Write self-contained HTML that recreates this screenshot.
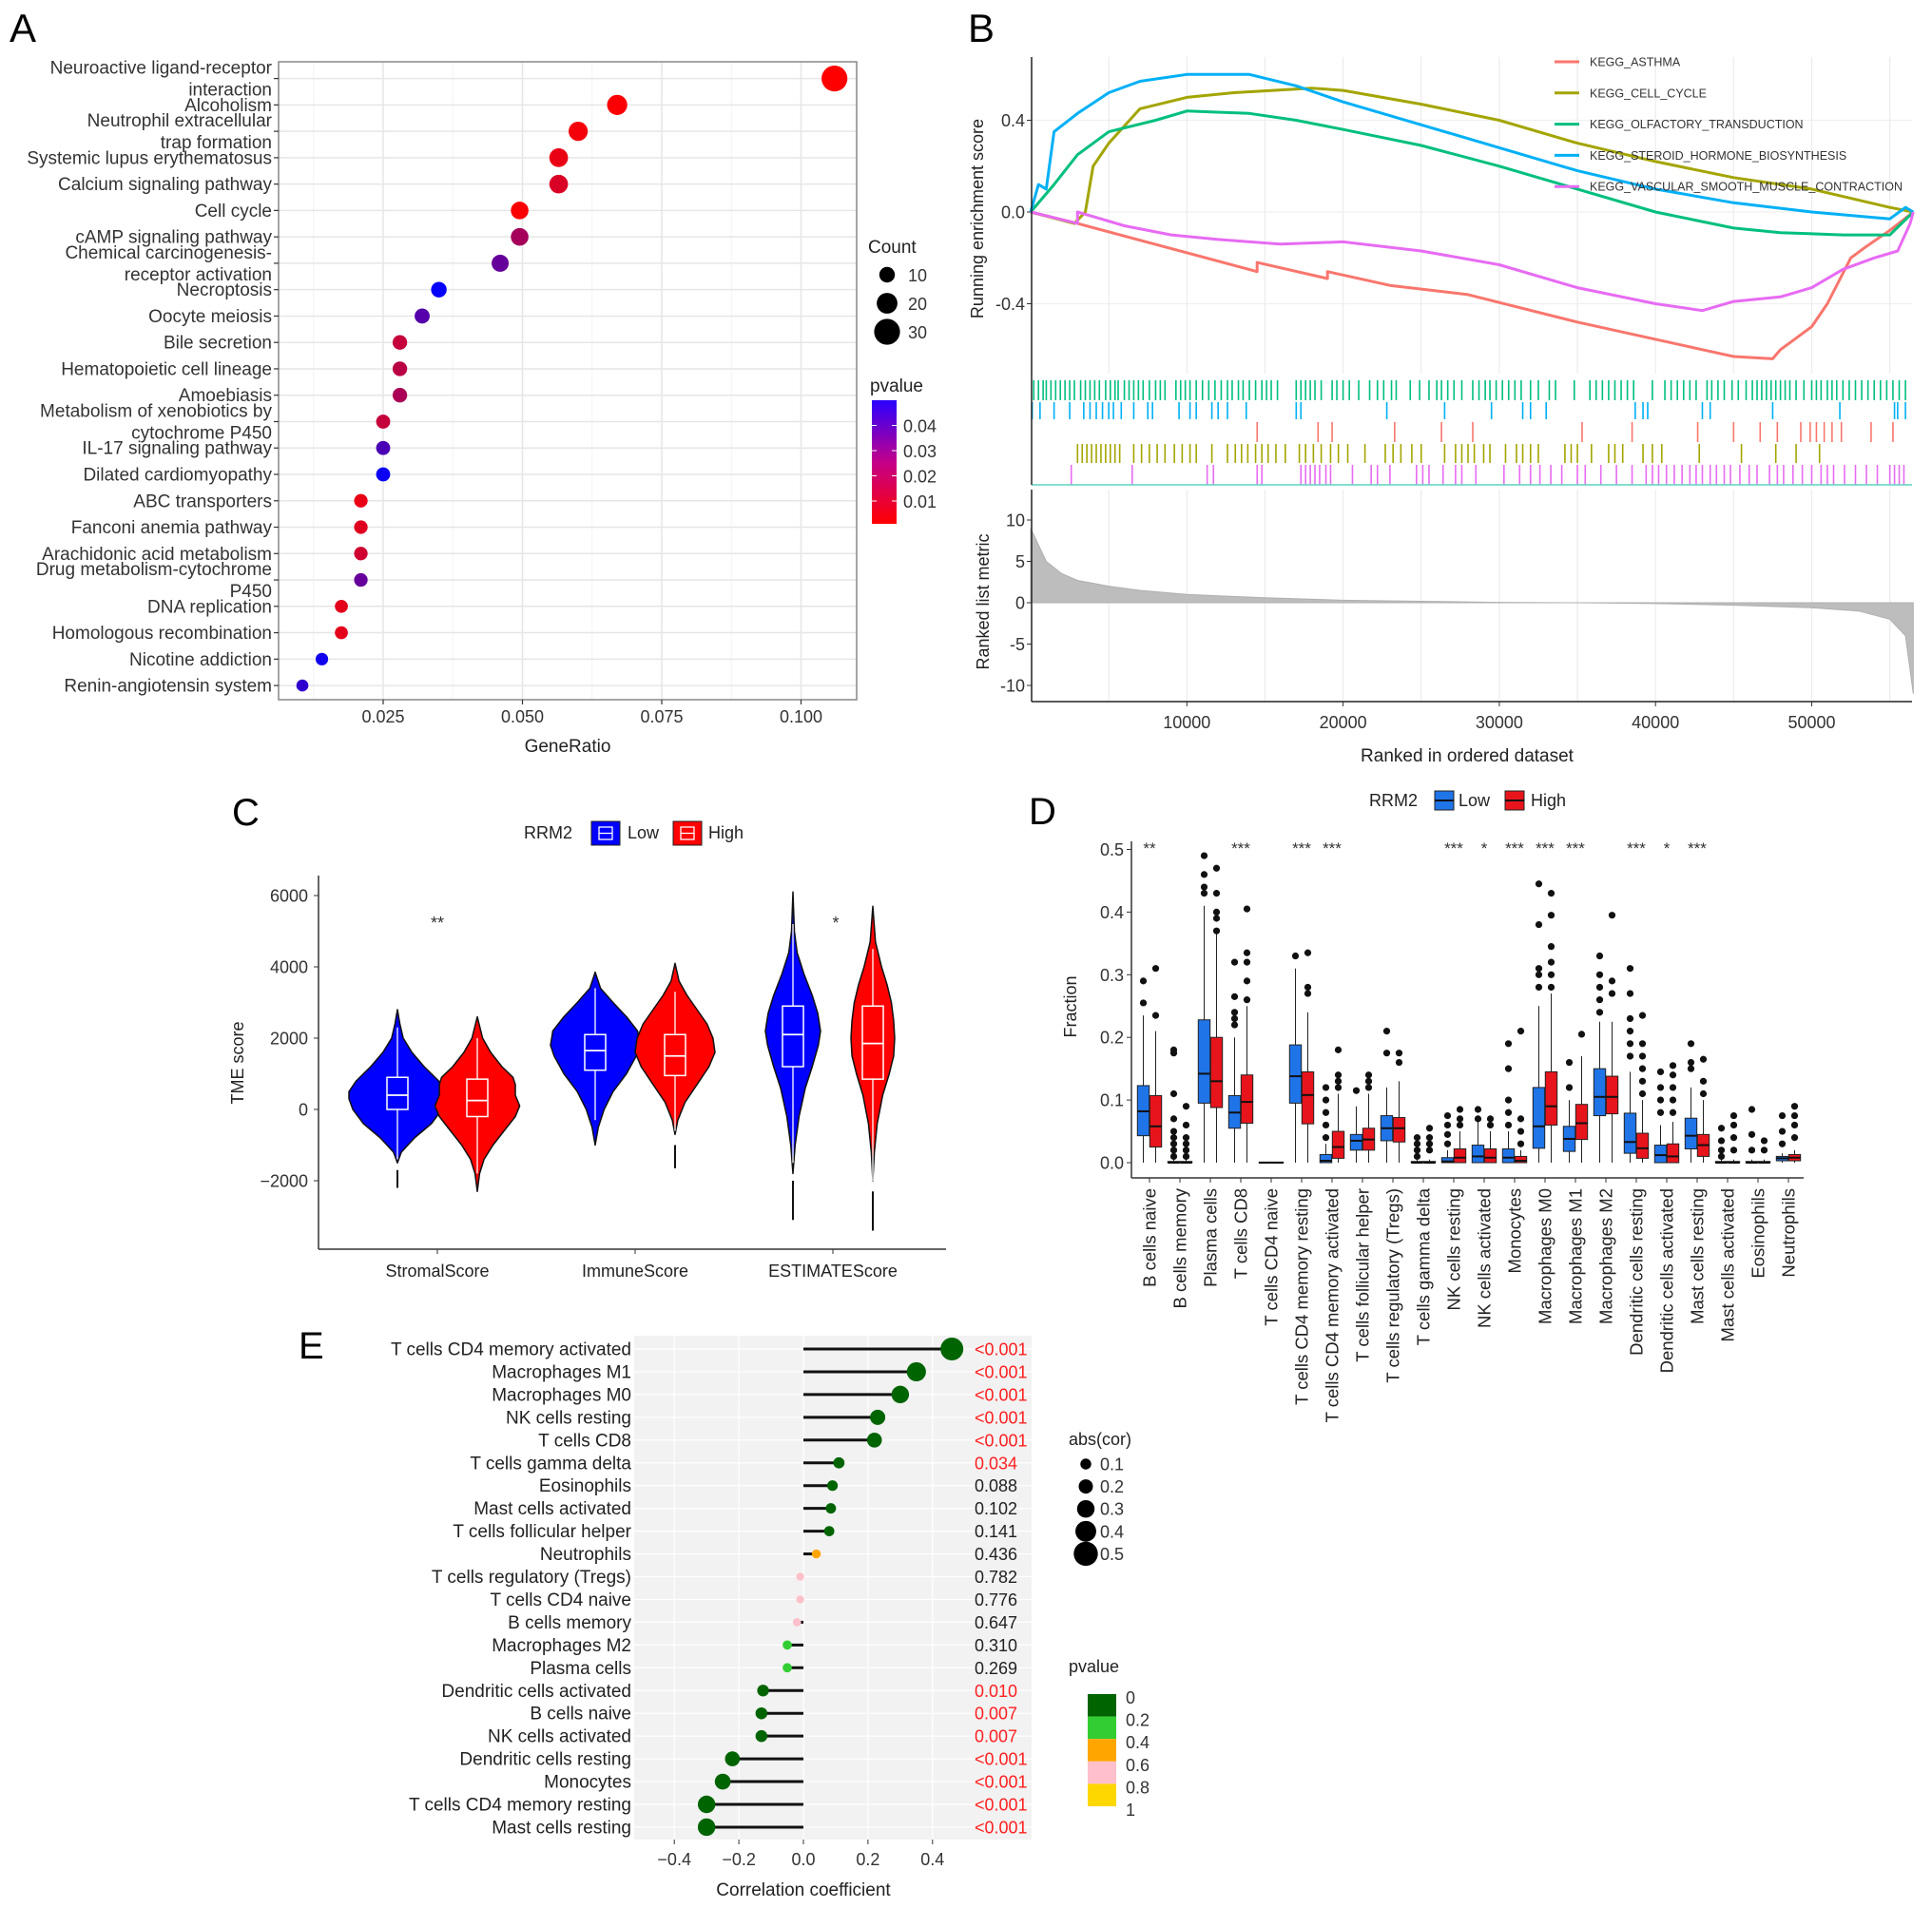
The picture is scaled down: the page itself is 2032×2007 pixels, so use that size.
<!DOCTYPE html>
<html><head><meta charset="utf-8"><style>
html,body{margin:0;padding:0;background:#fff;}
svg{display:block;font-family:"Liberation Sans",sans-serif;}
</style></head><body>
<svg id="chart" width="2032" height="2007" viewBox="0 0 2032 2007" xmlns="http://www.w3.org/2000/svg">
<rect x="0" y="0" width="2032" height="2007" fill="#fff"/>
</svg>
<script>
// ---------------- Panel A data ----------------
const aTerms=["Neuroactive ligand-receptor\ninteraction","Alcoholism","Neutrophil extracellular\ntrap formation","Systemic lupus erythematosus","Calcium signaling pathway","Cell cycle","cAMP signaling pathway","Chemical carcinogenesis-\nreceptor activation","Necroptosis","Oocyte meiosis","Bile secretion","Hematopoietic cell lineage","Amoebiasis","Metabolism of xenobiotics by\ncytochrome P450","IL-17 signaling pathway","Dilated cardiomyopathy","ABC transporters","Fanconi anemia pathway","Arachidonic acid metabolism","Drug metabolism-cytochrome\nP450","DNA replication","Homologous recombination","Nicotine addiction","Renin-angiotensin system"];
const aRatio=[0.106,0.067,0.060,0.0565,0.0565,0.0495,0.0495,0.046,0.035,0.032,0.028,0.028,0.028,0.025,0.025,0.025,0.021,0.021,0.021,0.021,0.0175,0.0175,0.014,0.0105];
const aPval=[0.001,0.002,0.003,0.005,0.008,0.002,0.018,0.030,0.048,0.033,0.012,0.014,0.017,0.012,0.035,0.047,0.005,0.007,0.010,0.030,0.006,0.006,0.046,0.040];
const aCount=[30,19,17,16,16,14,14,13,10,9,8,8,8,7,7,7,6,6,6,6,5,5,4,3];
const aXTicks=[0.025,0.050,0.075,0.100];
const aXTickLabels=["0.025","0.050","0.075","0.100"];
const aCountLegend=[10,20,30];
const aPLegend=[0.04,0.03,0.02,0.01];

// ---------------- Panel B data ----------------
const bSetNames=["KEGG_ASTHMA","KEGG_CELL_CYCLE","KEGG_OLFACTORY_TRANSDUCTION","KEGG_STEROID_HORMONE_BIOSYNTHESIS","KEGG_VASCULAR_SMOOTH_MUSCLE_CONTRACTION"];
const esRankAsthma=[0,3,14.5,14.5,19,19,23,28,35,43,45,47.5,48,49,50,51,52.5,53.5,55,56.5];
const esValAsthma=[0,-0.05,-0.26,-0.22,-0.29,-0.26,-0.32,-0.36,-0.48,-0.60,-0.63,-0.64,-0.60,-0.55,-0.50,-0.40,-0.20,-0.15,-0.08,0];
const esRankCycle=[0,2.8,3.5,4,5,7,10,13,18,20,25,30,35,40,45,50,55,56.5];
const esValCycle=[0,-0.05,0.0,0.2,0.3,0.45,0.5,0.52,0.54,0.53,0.47,0.40,0.30,0.22,0.15,0.10,0.02,0];
const esRankOlf=[0,1.5,3,5,8,10,14,17,20,25,30,35,40,45,48,52,55,56.5];
const esValOlf=[0,0.12,0.25,0.35,0.40,0.44,0.43,0.40,0.36,0.29,0.20,0.10,0.0,-0.07,-0.09,-0.10,-0.10,0];
const esRankSter=[0,0.5,1,1.5,3,5,7,10,14,17,20,25,30,35,40,45,50,55,56,56.5];
const esValSter=[0,0.12,0.10,0.35,0.43,0.52,0.57,0.60,0.60,0.55,0.48,0.38,0.28,0.18,0.10,0.04,0.0,-0.03,0.02,0];
const esRankVasc=[0,3,3,6,9,12,16,20,25,30,35,40,43,45,48,50,52,54,55.5,56.3,56.5];
const esValVasc=[0,-0.05,0.0,-0.06,-0.10,-0.12,-0.14,-0.13,-0.17,-0.23,-0.33,-0.40,-0.43,-0.39,-0.37,-0.33,-0.25,-0.20,-0.17,-0.05,0];
const rugOlf=[0.2,0.5,0.8,1.0,1.3,1.6,1.9,2.2,2.5,2.8,3.2,3.5,3.8,4.1,4.4,4.8,5.1,5.4,5.6,6.0,6.3,6.6,6.9,7.2,7.6,8.0,8.3,8.6,9.3,9.6,9.9,10.2,10.6,11.0,11.4,11.8,12.2,12.6,12.9,13.3,13.6,14.0,14.4,14.8,15.1,15.4,15.8,17.0,17.3,17.6,17.9,18.2,18.6,19.3,19.6,20.0,20.4,21.0,21.7,22.2,22.6,23.1,23.4,24.3,24.9,25.5,26.0,26.3,26.7,27.1,27.6,28.3,28.7,29.1,29.4,29.8,30.2,30.6,31.0,31.4,32.0,32.5,33.2,33.6,34.8,35.8,36.2,36.6,37.0,37.4,37.8,38.2,38.6,39.8,40.6,41.0,41.4,41.8,42.2,42.6,43.3,43.6,44.0,44.4,44.9,45.3,45.8,46.2,46.5,46.8,47.1,47.4,47.7,48.0,48.3,48.6,49.0,49.5,50.0,50.3,50.6,51.0,51.3,51.6,52.0,52.4,52.8,53.2,53.6,54.0,54.4,54.8,55.2,55.6,56.0];
const rugSter=[0.1,0.6,1.5,2.5,3.4,3.8,4.2,4.6,5.0,5.3,5.8,6.6,7.5,7.8,9.5,10.2,10.6,11.6,12.0,12.6,13.8,17.0,17.3,22.8,26.5,29.5,31.5,32.0,33.0,38.7,39.2,39.5,43.0,43.5,47.5,51.8,55.3,55.5,56.0];
const rugAsthma=[14.5,18.4,19.3,23.3,26.3,28.3,35.3,38.5,42.7,45.0,46.7,47.8,49.3,49.9,50.3,50.8,51.3,51.9,53.8,55.2];
const rugCycle=[3.0,3.3,3.6,3.9,4.2,4.5,4.8,5.1,5.4,5.7,6.6,7.1,7.6,8.1,8.6,9.2,9.7,10.2,10.6,11.6,12.6,13.1,13.5,13.9,14.4,14.8,15.2,15.7,16.3,17.2,17.6,18.1,18.6,19.2,19.7,20.3,21.4,22.7,23.2,23.7,24.4,25.0,26.5,27.2,27.6,28.0,28.4,29.0,29.4,30.4,31.1,31.5,32.0,32.5,34.2,34.6,35.0,35.9,37.0,37.4,37.9,39.2,39.8,40.4,42.8,45.5,47.7,49.0,50.5];
const rugVasc=[2.6,6.5,11.3,11.7,14.5,14.8,17.3,17.6,17.9,18.2,18.5,18.9,19.2,20.6,21.8,22.2,23.0,24.7,25.1,25.5,26.4,27.2,27.6,28.5,30.3,31.3,32.0,32.6,33.3,34.0,35.0,35.5,36.5,37.5,38.5,39.4,39.8,40.2,40.7,41.2,41.7,42.2,42.6,43.0,43.5,43.9,44.4,44.8,45.4,46.0,46.5,47.3,47.8,48.2,48.8,49.4,50.0,50.6,51.0,51.4,52.1,52.8,53.5,54.2,55.0,55.3,55.6,55.9];
const metricRank=[0,0.5,1,2,3,5,7,10,15,20,30,35,40,45,50,53,55,56,56.5];
const metricVal=[9,7,5,3.5,2.7,2,1.5,1,0.6,0.3,0.05,0,-0.1,-0.3,-0.6,-1,-2,-4,-11];
const bXTicks=[10000,20000,30000,40000,50000];
const bEsTicks=[0.4,0.0,-0.4];
const bEsTickLabels=["0.4","0.0","-0.4"];
const bMetricTicks=[10,5,0,-5,-10];

// ---------------- Panel C data ----------------
const cCategories=["StromalScore","ImmuneScore","ESTIMATEScore"];
const cYTicks=[6000,4000,2000,0,-2000];
const violinY=[
 [-1500,-1200,-800,-400,0,300,500,800,1200,1600,2000,2400,2800],
 [-2300,-1800,-1400,-1000,-600,-200,100,400,700,900,1200,1600,2000,2600],
 [-1000,-500,0,500,1000,1500,1800,2200,2600,3000,3400,3850],
 [-700,-300,200,700,1200,1600,2000,2400,2800,3200,3600,4100],
 [-1800,-1000,-200,600,1200,1800,2200,2700,3200,3800,4400,5000,6100],
 [-2000,-1200,-400,400,1000,1500,2000,2500,3000,3500,4000,4700,5700]];
const violinW=[
 [0,0.08,0.35,0.7,0.92,1.0,1.0,0.85,0.55,0.3,0.12,0.05,0],
 [0,0.05,0.15,0.35,0.6,0.85,0.95,0.85,0.85,0.8,0.55,0.3,0.12,0],
 [0,0.07,0.2,0.4,0.7,0.92,1.0,0.95,0.7,0.4,0.12,0],
 [0,0.07,0.25,0.55,0.85,1.0,0.95,0.8,0.55,0.3,0.1,0],
 [0,0.08,0.22,0.45,0.7,0.92,1.0,0.9,0.7,0.4,0.15,0.05,0],
 [0,0.07,0.2,0.45,0.75,0.95,1.0,0.95,0.85,0.65,0.4,0.12,0]];
const cQ1=[0,-200,1100,950,1200,850];
const cMed=[400,250,1650,1500,2100,1850];
const cQ3=[900,850,2100,2100,2900,2900];
const cWhLo=[-1400,-1800,-300,-600,-1500,-2000];
const cWhHi=[2300,2000,3400,3300,5200,4500];
const cOutLo=[-2200,null,null,-1650,-3100,-3400];
const cOutHi=[-1700,null,null,-1000,-2000,-2300];
const cSig=["**","","*"];

// ---------------- Panel D data ----------------
const dCells=["B cells naive","B cells memory","Plasma cells","T cells CD8","T cells CD4 naive","T cells CD4 memory resting","T cells CD4 memory activated","T cells follicular helper","T cells regulatory (Tregs)","T cells gamma delta","NK cells resting","NK cells activated","Monocytes","Macrophages M0","Macrophages M1","Macrophages M2","Dendritic cells resting","Dendritic cells activated","Mast cells resting","Mast cells activated","Eosinophils","Neutrophils"];
const dLowQ1=[0.043,0,0.095,0.055,0,0.095,0,0.02,0.035,0,0,0,0,0.023,0.018,0.075,0.015,0,0.022,0,0,0.003];
const dLowMed=[0.082,0,0.142,0.080,0,0.138,0.003,0.035,0.055,0,0.002,0.010,0.008,0.058,0.038,0.105,0.033,0.012,0.043,0,0,0.007];
const dLowQ3=[0.123,0.002,0.228,0.107,0.001,0.188,0.013,0.045,0.075,0.002,0.008,0.028,0.022,0.120,0.058,0.150,0.079,0.028,0.071,0.002,0.002,0.010];
const dLowWh=[0.235,0.005,0.41,0.20,0.001,0.31,0.03,0.09,0.12,0.005,0.02,0.065,0.05,0.25,0.10,0.225,0.145,0.06,0.12,0.005,0.005,0.015];
const dHighQ1=[0.025,0,0.088,0.063,0,0.062,0.007,0.02,0.033,0,0,0,0,0.06,0.037,0.078,0.007,0,0.01,0,0,0.003];
const dHighMed=[0.058,0,0.130,0.097,0,0.108,0.025,0.037,0.055,0,0.008,0.008,0.003,0.090,0.063,0.105,0.023,0.010,0.028,0,0,0.008];
const dHighQ3=[0.107,0.002,0.200,0.140,0.001,0.145,0.050,0.055,0.072,0.002,0.022,0.022,0.010,0.145,0.093,0.138,0.047,0.030,0.045,0.002,0.002,0.013];
const dHighWh=[0.21,0.005,0.37,0.25,0.001,0.24,0.11,0.11,0.13,0.005,0.05,0.05,0.02,0.27,0.17,0.225,0.10,0.065,0.10,0.005,0.005,0.02];
const dLowOut=[[0.255,0.29],[0.01,0.02,0.03,0.04,0.05,0.07,0.11,0.175,0.18],[0.43,0.44,0.46,0.49],[0.22,0.23,0.24,0.265,0.32],[],[0.33],[0.04,0.06,0.08,0.1,0.12],[0.115],[0.175,0.21],[0.01,0.02,0.03,0.04],[0.03,0.045,0.06,0.075],[0.07,0.085],[0.06,0.08,0.1,0.15,0.19],[0.28,0.3,0.31,0.38,0.445],[0.12,0.16],[0.24,0.26,0.28,0.3,0.33],[0.17,0.19,0.21,0.23,0.27,0.31],[0.08,0.1,0.12,0.145],[0.15,0.16,0.19],[0.01,0.02,0.035,0.055],[0.02,0.045,0.085],[0.03,0.05,0.075]];
const dHighOut=[[0.235,0.31],[0.01,0.02,0.03,0.04,0.06,0.09],[0.37,0.39,0.4,0.43,0.47],[0.26,0.29,0.32,0.335,0.405],[],[0.27,0.28,0.335],[0.12,0.13,0.14,0.18],[0.12,0.13,0.14],[0.16,0.175],[0.02,0.03,0.04,0.055],[0.06,0.07,0.085],[0.06,0.07],[0.03,0.05,0.07,0.21],[0.28,0.3,0.32,0.345,0.395,0.43],[0.205],[0.27,0.29,0.395],[0.11,0.13,0.15,0.17,0.19,0.235],[0.08,0.1,0.12,0.14,0.155],[0.11,0.13,0.165],[0.02,0.04,0.06,0.075],[0.02,0.035],[0.04,0.06,0.075,0.09]];
const dStars=["**","","","***","","***","***","","","","***","*","***","***","***","","***","*","***","","",""];
const dYTicks=[0.0,0.1,0.2,0.3,0.4,0.5];

// ---------------- Panel E data ----------------
const eCells=["T cells CD4 memory activated","Macrophages M1","Macrophages M0","NK cells resting","T cells CD8","T cells gamma delta","Eosinophils","Mast cells activated","T cells follicular helper","Neutrophils","T cells regulatory (Tregs)","T cells CD4 naive","B cells memory","Macrophages M2","Plasma cells","Dendritic cells activated","B cells naive","NK cells activated","Dendritic cells resting","Monocytes","T cells CD4 memory resting","Mast cells resting"];
const eCor=[0.46,0.35,0.30,0.23,0.22,0.11,0.09,0.085,0.08,0.04,-0.01,-0.01,-0.02,-0.05,-0.05,-0.125,-0.13,-0.13,-0.22,-0.25,-0.30,-0.30];
const ePval=[0.0005,0.0005,0.0005,0.0005,0.0005,0.034,0.088,0.102,0.141,0.436,0.782,0.776,0.647,0.310,0.269,0.010,0.007,0.007,0.0005,0.0005,0.0005,0.0005];
const ePLabel=["<0.001","<0.001","<0.001","<0.001","<0.001","0.034","0.088","0.102","0.141","0.436","0.782","0.776","0.647","0.310","0.269","0.010","0.007","0.007","<0.001","<0.001","<0.001","<0.001"];
const eXTicks=[-0.4,-0.2,0.0,0.2,0.4];
const eXTickLabels=["\u22120.4","\u22120.2","0.0","0.2","0.4"];
const eSizeLegend=[0.1,0.2,0.3,0.4,0.5];
const ePBreaks=["0","0.2","0.4","0.6","0.8","1"];

// ---------------- helpers ----------------
const NS="http://www.w3.org/2000/svg";
const svg=document.getElementById('chart');
function mk(tag,attrs,parent){const e=document.createElementNS(NS,tag);for(const k in attrs)e.setAttribute(k,attrs[k]);(parent||svg).appendChild(e);return e;}
function tx(str,attrs,parent){const e=mk('text',attrs,parent);e.textContent=str;return e;}
function grp(parent){return mk('g',{},parent);}
const TC="#333";

// ================= PANEL A =================
const gA=grp();


const xA=v=>403+(v-0.025)*5860;
const yA=i=>82.6+i*27.76;
let e;
e=tx("A",{x:10,y:44,'font-size':42,fill:'#000'},gA);


e=mk('rect',{x:293,y:65,width:608,height:671,fill:'#fff'},gA);


for(let v=0.0125;v<0.112;v+=0.0125){
  const major=Math.abs((v/0.025)-Math.round(v/0.025))<0.01;
  e=mk('line',{x1:xA(v),x2:xA(v),y1:65,y2:736,stroke:major?'#e6e6e6':'#f3f3f3','stroke-width':major?1.5:1},gA);
  
  
}
aTerms.forEach((t,i)=>{
  e=mk('line',{x1:293,x2:901,y1:yA(i),y2:yA(i),stroke:'#e6e6e6','stroke-width':1.5},gA);
  
  
});
e=mk('rect',{x:293,y:65,width:608,height:671,fill:'none',stroke:'#888','stroke-width':1.5},gA);


function pColor(p){const t=Math.max(0,Math.min(1,(p-0.001)/(0.048)));const r=Math.round(255*(1-t)),b=Math.round(255*t);return `rgb(${r},0,${b})`;}
aTerms.forEach((t,i)=>{
  const lines=t.split("\n");
  const y=yA(i);
  const lab=tx('',{x:286,y:0,'font-size':19,fill:TC,'text-anchor':'end'},gA);
  
  
  lines.forEach((ln,k)=>{
    const ts=mk('tspan',{x:286,y:(lines.length===1?y+6.5:y-5+k*23)},lab);
    ts.textContent=ln;
  });
  e=mk('line',{x1:288,x2:293,y1:y,y2:y,stroke:'#333','stroke-width':1.2},gA);
  
  
  const c=mk('circle',{cx:xA(aRatio[i]),cy:y,r:5.5+0.27*aCount[i],fill:pColor(aPval[i])},gA);
  
  
});
aXTicks.forEach((v,i)=>{
  e=mk('line',{x1:xA(v),x2:xA(v),y1:736,y2:741,stroke:'#333','stroke-width':1.2},gA);
  
  
  e=tx(aXTickLabels[i],{x:xA(v),y:760,'font-size':18,fill:TC,'text-anchor':'middle'},gA);
  
  
});
e=tx("GeneRatio",{x:597,y:791,'font-size':19,fill:'#222','text-anchor':'middle'},gA);


e=tx("Count",{x:913,y:266,'font-size':19,fill:'#222'},gA);


aCountLegend.forEach((c,i)=>{
  const y=289+i*30;
  e=mk('circle',{cx:933,cy:y,r:5.5+0.27*c,fill:'#000'},gA);
  
  
  e=tx(String(c),{x:955,y:y+7,'font-size':18,fill:TC},gA);
  
  
});
e=tx("pvalue",{x:915,y:412,'font-size':19,fill:'#222'},gA);


const defs=mk('defs',{});
const lg=mk('linearGradient',{id:'pgrad',x1:0,y1:1,x2:0,y2:0},defs);
mk('stop',{offset:'0','stop-color':'#ff0000'},lg);
mk('stop',{offset:'0.5','stop-color':'#c4008a'},lg);
mk('stop',{offset:'1','stop-color':'#2a00ff'},lg);
e=mk('rect',{x:917,y:421,width:26,height:130,fill:'url(#pgrad)'},gA);


aPLegend.forEach(p=>{
  const y=553.5-p*2650;
  e=tx(p.toFixed(2),{x:950,y:y+7,'font-size':18,fill:TC},gA);
  
  
  mk('line',{x1:917,x2:922,y1:y,y2:y,stroke:'#fff'},gA);
  mk('line',{x1:938,x2:943,y1:y,y2:y,stroke:'#fff'},gA);
});

// ================= PANEL B =================
const gB=grp();


const xB=r=>1084+r*0.01643;
const xBk=k=>xB(k*1000);
const yES=v=>223-v*241.25;
const yRM=v=>634-v*8.7;
e=tx("B",{x:1018,y:44,'font-size':42,fill:'#000'},gB);


for(let r=5000;r<57000;r+=5000){
  e=mk('line',{x1:xB(r),x2:xB(r),y1:60,y2:393,stroke:'#ececec','stroke-width':1.2},gB);
  
  
  e=mk('line',{x1:xB(r),x2:xB(r),y1:515,y2:738,stroke:'#ececec','stroke-width':1.2},gB);
  
  
}
bEsTicks.forEach((v,i)=>{
  e=mk('line',{x1:1085,x2:2011,y1:yES(v),y2:yES(v),stroke:'#f0f0f0','stroke-width':1.2},gB);
  
  
  e=tx(bEsTickLabels[i],{x:1078,y:yES(v)+6.5,'font-size':18,fill:TC,'text-anchor':'end'},gB);
  
  
  mk('line',{x1:1080,x2:1085,y1:yES(v),y2:yES(v),stroke:'#333'},gB);
});
const esSeries=[[esRankAsthma,esValAsthma,'#F8766D'],[esRankCycle,esValCycle,'#A3A500'],[esRankOlf,esValOlf,'#00BF7D'],[esRankSter,esValSter,'#00B0F6'],[esRankVasc,esValVasc,'#E76BF3']];
const esNames=['es-line-asthma','es-line-cell-cycle','es-line-olfactory','es-line-steroid','es-line-vascular'];
esSeries.forEach((s,si)=>{
  const d=s[0].map((r,i)=>(i?'L':'M')+xBk(r).toFixed(1)+','+yES(s[1][i]).toFixed(1)).join(' ');
  const p=mk('path',{d:d,fill:'none',stroke:s[2],'stroke-width':3,'stroke-linejoin':'round'},gB);
  
  
});
bSetNames.forEach((n,i)=>{
  const y=65+i*32.8;
  e=mk('line',{x1:1635,x2:1661,y1:y,y2:y,stroke:esSeries[i][2],'stroke-width':3},gB);
  
  
  e=tx(n,{x:1672,y:y+4.5,'font-size':12.5,fill:'#333'},gB);
  
  
});
e=mk('line',{x1:1085,x2:1085,y1:60,y2:393,stroke:'#222','stroke-width':1.5},gB);


e=tx("Running enrichment score",{x:0,y:0,'font-size':18,fill:'#222','text-anchor':'middle',transform:'translate(1034,230) rotate(-90)'},gB);


// rug
const rugs=[[rugOlf,'#00BF7D',400,421],[rugSter,'#00B0F6',423,441],[rugAsthma,'#F8766D',444,465],[rugCycle,'#A3A500',467,487],[rugVasc,'#E76BF3',489,510]];
const rugNames=['rug-olfactory','rug-steroid','rug-asthma','rug-cell-cycle','rug-vascular'];
rugs.forEach((rg,ri)=>{
  const g=grp(gB);
  
  
  rg[0].forEach(k=>{mk('line',{x1:xBk(k),x2:xBk(k),y1:rg[2],y2:rg[3],stroke:rg[1],'stroke-width':1.6},g);});
});
e=mk('line',{x1:1085,x2:2011,y1:510,y2:510,stroke:'#5fd3c0','stroke-width':1.5},gB);


e=mk('line',{x1:1085,x2:1085,y1:393,y2:510,stroke:'#222','stroke-width':1.5},gB);


// metric
let md='M'+xBk(metricRank[0])+','+yRM(0);
metricRank.forEach((r,i)=>{md+=' L'+xBk(r).toFixed(1)+','+yRM(metricVal[i]).toFixed(1);});
md+=' L'+xBk(metricRank[metricRank.length-1])+','+yRM(0)+' Z';
e=mk('path',{d:md,fill:'#bdbdbd',stroke:'#b0b0b0','stroke-width':1},gB);


bMetricTicks.forEach(v=>{
  e=tx(String(v),{x:1078,y:yRM(v)+6.5,'font-size':18,fill:TC,'text-anchor':'end'},gB);
  
  
  mk('line',{x1:1080,x2:1085,y1:yRM(v),y2:yRM(v),stroke:'#333'},gB);
});
e=mk('line',{x1:1085,x2:1085,y1:515,y2:738,stroke:'#222','stroke-width':1.5},gB);


e=mk('line',{x1:1085,x2:2011,y1:738,y2:738,stroke:'#222','stroke-width':1.5},gB);


bXTicks.forEach(r=>{
  mk('line',{x1:xB(r),x2:xB(r),y1:738,y2:743,stroke:'#333'},gB);
  e=tx(String(r),{x:xB(r),y:766,'font-size':18,fill:TC,'text-anchor':'middle'},gB);
  
  
});
e=tx("Ranked in ordered dataset",{x:1543,y:801,'font-size':19,fill:'#222','text-anchor':'middle'},gB);


e=tx("Ranked list metric",{x:0,y:0,'font-size':18,fill:'#222','text-anchor':'middle',transform:'translate(1040,633) rotate(-90)'},gB);



// ================= PANEL C =================
const gC=grp();


const yC=v=>1167-v*0.0375;
const cCenter=[460,668,876];
const violinScalePx=[51,47,47,42,29,23];
const cFill=['#0000FF','#FF0000'];
e=tx("C",{x:244,y:868,'font-size':40,fill:'#000'},gC);


e=tx("RRM2",{x:551,y:882,'font-size':18,fill:'#222'},gC);


[['Low',622,660],['High',708,745]].forEach((L,i)=>{
  e=mk('rect',{x:L[1],y:864,width:30,height:25,fill:cFill[i],stroke:'#222','stroke-width':1},gC);
  
  
  mk('rect',{x:L[1]+8,y:870,width:14,height:13,fill:'none',stroke:'#fff','stroke-width':1.3},gC);
  mk('line',{x1:L[1]+8,x2:L[1]+22,y1:876.5,y2:876.5,stroke:'#fff','stroke-width':1.3},gC);
  e=tx(L[0],{x:L[2],y:882,'font-size':18,fill:'#222'},gC);
  
  
});
cYTicks.forEach(v=>{
  e=tx(v<0?'\u2212'+Math.abs(v):String(v),{x:324,y:yC(v)+6.5,'font-size':18,fill:TC,'text-anchor':'end'},gC);
  
  
  mk('line',{x1:330,x2:335,y1:yC(v),y2:yC(v),stroke:'#333'},gC);
});
for(let j=0;j<6;j++){
  const cx=cCenter[Math.floor(j/2)]+(j%2?42:-42);
  const ys=violinY[j], ws=violinW[j], s=violinScalePx[j];
  let d='';
  ys.forEach((v,i)=>{d+=(i?'L':'M')+(cx+ws[i]*s).toFixed(1)+','+yC(v).toFixed(1)+' ';});
  for(let i=ys.length-1;i>=0;i--){d+='L'+(cx-ws[i]*s).toFixed(1)+','+yC(ys[i]).toFixed(1)+' ';}
  d+='Z';
  const g=grp(gC);
  
  
  mk('path',{d:d,fill:cFill[j%2],stroke:'#111','stroke-width':1.5,'stroke-linejoin':'round'},g);
  mk('line',{x1:cx,x2:cx,y1:yC(cWhLo[j]),y2:yC(cQ1[j]),stroke:'#fff','stroke-width':1.3},g);
  mk('line',{x1:cx,x2:cx,y1:yC(cQ3[j]),y2:yC(cWhHi[j]),stroke:'#fff','stroke-width':1.3},g);
  mk('rect',{x:cx-11,y:yC(cQ3[j]),width:22,height:yC(cQ1[j])-yC(cQ3[j]),fill:'none',stroke:'#fff','stroke-width':1.5},g);
  mk('line',{x1:cx-11,x2:cx+11,y1:yC(cMed[j]),y2:yC(cMed[j]),stroke:'#fff','stroke-width':1.8},g);
  if(cOutLo[j]!==null){mk('line',{x1:cx,x2:cx,y1:yC(cOutHi[j]),y2:yC(cOutLo[j]),stroke:'#111','stroke-width':2},g);}
}
cCategories.forEach((c,i)=>{
  mk('line',{x1:cCenter[i],x2:cCenter[i],y1:1314,y2:1319,stroke:'#333'},gC);
  e=tx(c,{x:cCenter[i],y:1343,'font-size':18,fill:'#222','text-anchor':'middle'},gC);
  
  
  if(cSig[i]){
    e=tx(cSig[i],{x:cCenter[i]+(i===2?3:0),y:977,'font-size':18,fill:'#333','text-anchor':'middle'},gC);
    
    
  }
});
e=mk('line',{x1:335,x2:335,y1:921,y2:1314,stroke:'#333','stroke-width':1.5},gC);


e=mk('line',{x1:335,x2:995,y1:1314,y2:1314,stroke:'#333','stroke-width':1.5},gC);


e=tx("TME score",{x:0,y:0,'font-size':18,fill:'#222','text-anchor':'middle',transform:'translate(256,1118) rotate(-90)'},gC);



// ================= PANEL D =================
const gD=grp();


const yD=v=>1223-v*659;
const xD=i=>1209+i*32.0;
const dFill=['#1f74e8','#e8141c'];
e=tx("D",{x:1082,y:867,'font-size':40,fill:'#000'},gD);


e=tx("RRM2",{x:1440,y:848,'font-size':18,fill:'#222'},gD);


[['Low',1509,1534],['High',1583,1610]].forEach((L,i)=>{
  e=mk('rect',{x:L[1],y:832,width:20,height:20,fill:dFill[i],stroke:'#222'},gD);
  
  
  mk('line',{x1:L[1],x2:L[1]+20,y1:842,y2:842,stroke:'#111','stroke-width':2},gD);
  e=tx(L[0],{x:L[2],y:848,'font-size':18,fill:'#222'},gD);
  
  
});
dYTicks.forEach(v=>{
  e=tx(v.toFixed(1),{x:1182,y:yD(v)+6.5,'font-size':18,fill:TC,'text-anchor':'end'},gD);
  
  
  mk('line',{x1:1185,x2:1190,y1:yD(v),y2:yD(v),stroke:'#333'},gD);
});
function dBox(g,cx,q1,md,q3,wh,outs,fill){
  mk('line',{x1:cx,x2:cx,y1:yD(q3),y2:yD(wh),stroke:'#222','stroke-width':1},g);
  mk('line',{x1:cx,x2:cx,y1:yD(q1),y2:yD(0),stroke:'#222','stroke-width':1},g);
  mk('rect',{x:cx-6.2,y:yD(q3),width:12.4,height:Math.max(1,yD(q1)-yD(q3)),fill:fill,stroke:'#222','stroke-width':1},g);
  mk('line',{x1:cx-6.2,x2:cx+6.2,y1:yD(md),y2:yD(md),stroke:'#111','stroke-width':2},g);
  outs.forEach(o=>{mk('circle',{cx:cx,cy:yD(o),r:3.6,fill:'#111'},g);});
}
dCells.forEach((c,i)=>{
  const gl=grp(gD);
  
  
  dBox(gl,xD(i)-6.5,dLowQ1[i],dLowMed[i],dLowQ3[i],dLowWh[i],dLowOut[i],dFill[0]);
  const gh=grp(gD);
  
  
  dBox(gh,xD(i)+6.5,dHighQ1[i],dHighMed[i],dHighQ3[i],dHighWh[i],dHighOut[i],dFill[1]);
  mk('line',{x1:xD(i),x2:xD(i),y1:1239,y2:1244,stroke:'#333'},gD);
  e=tx(c,{x:0,y:0,'font-size':18.5,fill:'#222','text-anchor':'end',transform:`translate(${xD(i)+6.5},1250) rotate(-90)`},gD);
  
  
  if(dStars[i]){
    e=tx(dStars[i],{x:xD(i),y:898,'font-size':17,fill:'#333','text-anchor':'middle'},gD);
    
    
  }
});
e=mk('line',{x1:1190,x2:1190,y1:885,y2:1239,stroke:'#333','stroke-width':1.5},gD);


e=mk('line',{x1:1190,x2:1897,y1:1239,y2:1239,stroke:'#333','stroke-width':1.5},gD);


e=tx("Fraction",{x:0,y:0,'font-size':18,fill:'#222','text-anchor':'middle',transform:'translate(1132,1059) rotate(-90)'},gD);



// ================= PANEL E =================
const gE=grp();


const xE=v=>845+v*339.5;
const yE=i=>1419+i*23.95;
const pBinColors=['#006400','#32CD32','#FFA500','#FFC0CB','#FFD700'];
const pCol=p=>pBinColors[Math.min(4,Math.floor(p/0.2))];
e=tx("E",{x:314,y:1429,'font-size':40,fill:'#000'},gE);


e=mk('rect',{x:667,y:1405,width:418,height:530,fill:'#f2f2f2'},gE);


eCells.forEach((c,i)=>{mk('line',{x1:667,x2:1085,y1:yE(i),y2:yE(i),stroke:'#fff','stroke-width':1.2},gE);});
eXTicks.forEach(v=>{mk('line',{x1:xE(v),x2:xE(v),y1:1405,y2:1935,stroke:'#fff','stroke-width':1.2},gE);});
eCells.forEach((c,i)=>{
  e=tx(c,{x:664,y:yE(i)+6.5,'font-size':19,fill:'#222','text-anchor':'end'},gE);
  
  
  const g=grp(gE);
  
  
  mk('line',{x1:xE(0),x2:xE(eCor[i]),y1:yE(i),y2:yE(i),stroke:'#111','stroke-width':3},g);
  mk('circle',{cx:xE(eCor[i]),cy:yE(i),r:4+8*Math.abs(eCor[i])/0.46,fill:pCol(ePval[i])},g);
  e=tx(ePLabel[i],{x:1025,y:yE(i)+6.5,'font-size':18,fill:ePval[i]<0.05?'#ff2020':'#222'},gE);
  
  
});
eXTicks.forEach((v,i)=>{
  mk('line',{x1:xE(v),x2:xE(v),y1:1935,y2:1940,stroke:'#333'},gE);
  e=tx(eXTickLabels[i],{x:xE(v),y:1962,'font-size':18,fill:TC,'text-anchor':'middle'},gE);
  
  
});
e=tx("Correlation coefficient",{x:845,y:1994,'font-size':19,fill:'#222','text-anchor':'middle'},gE);


e=tx("abs(cor)",{x:1124,y:1520,'font-size':18,fill:'#222'},gE);


eSizeLegend.forEach((s,i)=>{
  const y=1540+i*23.6;
  e=mk('circle',{cx:1142,cy:y,r:4+8*s/0.46,fill:'#000'},gE);
  
  
  e=tx(s.toFixed(1),{x:1157,y:y+6.5,'font-size':18,fill:TC},gE);
  
  
});
e=tx("pvalue",{x:1124,y:1759,'font-size':18,fill:'#222'},gE);


pBinColors.forEach((c,i)=>{
  e=mk('rect',{x:1144,y:1782+i*23.6,width:30,height:23.6,fill:c},gE);
  
  
});
ePBreaks.forEach((b,i)=>{
  e=tx(b,{x:1184,y:1786+i*23.6+6,'font-size':18,fill:TC},gE);
  
  
});
</script>
</body></html>
